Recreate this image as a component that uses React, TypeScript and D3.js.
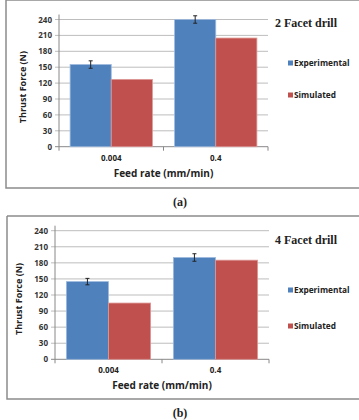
import React from "react";
import * as d3 from "d3";

// feed rates on x axis
const feedRates = ["0.004", "0.4"];
const seriesNames = ["Experimental", "Simulated"];
const yTicks = [0, 30, 60, 90, 120, 150, 180, 210, 240];

// 2 facet drill
const exp2 = [155, 240];
const sim2 = [127, 205];
const err2 = [7, 7];

// 4 facet drill
const exp4 = [145, 190];
const sim4 = [105, 185];
const err4 = [6, 7];

const colors = ["#4f81bd", "#c0504d"];
const edges = ["#9db9dd", "#dd9896"];

const Panel = ({ top, left, plotLeft, plotTop, plotBottom, plotRight, exp, sim, err, title, titleY, label, frameBottom, legendY }) => {
  const x0 = d3.scaleBand().domain(feedRates).range([plotLeft, plotRight]).paddingInner(0).paddingOuter(0);
  const x1 = d3.scaleBand().domain(seriesNames).range([0, x0.bandwidth()]).paddingOuter(0.27);
  const y = d3.scaleLinear().domain([0, 240]).range([plotBottom, plotTop]);
  const values = [exp, sim];
  const bold = { fontFamily: "Open Sans, Noto Sans, sans-serif", fontWeight: 700 };

  return (
    <g transform={`translate(0,${top})`}>
      {/* frame */}
      <path d={`M${left},0 H360 M${left},0 V${frameBottom} H360`} fill="none" stroke="#8c8c8c" strokeWidth={1.5} />
      {/* gridlines */}
      {yTicks.map((t) => (
        <line key={t} x1={plotLeft - 4} x2={plotRight} y1={y(t)} y2={y(t)} stroke={t === 0 ? "#888" : "#bdbdbd"} strokeWidth={1} />
      ))}
      <line x1={plotLeft} x2={plotLeft} y1={y(240) - 5} y2={y(0)} stroke="#888" />
      {[plotLeft, plotLeft + x0.bandwidth(), plotRight].map((v, i) => (
        <line key={i} x1={v} x2={v} y1={y(0)} y2={y(0) + 4} stroke="#888" />
      ))}
      {yTicks.map((t) => (
        <text key={t} x={plotLeft - 7} y={y(t) + 3} textAnchor="end" fontSize={8} fill="#333" style={bold}>
          {t}
        </text>
      ))}
      {/* bars */}
      {feedRates.map((f, i) =>
        seriesNames.map((s, j) => (
          <rect
            key={f + s}
            x={x0(f) + x1(s)}
            y={y(values[j][i])}
            width={x1.bandwidth()}
            height={y(0) - y(values[j][i])}
            fill={colors[j]}
            stroke={edges[j]}
            strokeWidth={0.8}
          />
        ))
      )}
      {/* error bars */}
      {feedRates.map((f, i) => {
        const cx = x0(f) + x1("Experimental") + x1.bandwidth() / 2;
        const hi = y(exp[i] + err[i]);
        const lo = y(exp[i] - err[i]);
        return (
          <g key={f} stroke="#222" strokeWidth={1}>
            <line x1={cx} x2={cx} y1={hi} y2={lo} />
            <line x1={cx - 2} x2={cx + 2} y1={hi} y2={hi} />
            <line x1={cx - 2} x2={cx + 2} y1={lo} y2={lo} />
          </g>
        );
      })}
      {feedRates.map((f) => (
        <text key={f} x={x0(f) + x0.bandwidth() / 2} y={y(0) + 14} textAnchor="middle" fontSize={8} fill="#222" style={bold}>
          {f}
        </text>
      ))}
      <text x={(plotLeft + plotRight) / 2} y={y(0) + 30} textAnchor="middle" fontSize={10} fill="#222" style={bold}>
        Feed rate (mm/min)
      </text>
      <text
        transform={`translate(${plotLeft - 33},${(y(0) + y(240)) / 2 + 4}) rotate(-90)`}
        textAnchor="middle"
        fontSize={9}
        fill="#222"
        style={bold}
      >
        Thrust Force (N)
      </text>
      <text x={275} y={titleY} fontSize={12} fontWeight={700} fontFamily="Liberation Serif, Times New Roman, serif" fill="#222">
        {title}
      </text>
      {seriesNames.map((s, j) => (
        <g key={s}>
          <rect x={288} y={legendY[j] - 5.5} width={5} height={5} fill={colors[j]} />
          <text x={294} y={legendY[j]} fontSize={8.3} fill="#222" style={bold}>
            {s}
          </text>
        </g>
      ))}
      <text x={180} y={frameBottom + 18} textAnchor="middle" fontSize={12} fontWeight={700} fontFamily="Liberation Serif, Times New Roman, serif" fill="#222">
        {label}
      </text>
    </g>
  );
};

export default function App() {
  return (
    <svg width={359} height={420} style={{ position: "absolute", left: 0, top: 0, background: "#fff" }}>
      <Panel
        top={0}
        left={6}
        plotLeft={59}
        plotRight={268}
        plotTop={19.5}
        plotBottom={146.7}
        exp={exp2}
        sim={sim2}
        err={err2}
        title="2 Facet drill"
        titleY={27}
        label="(a)"
        frameBottom={188}
        legendY={[66, 98]}
      />
      <Panel
        top={216}
        left={7}
        plotLeft={55}
        plotRight={269}
        plotTop={14.7}
        plotBottom={143.3}
        exp={exp4}
        sim={sim4}
        err={err4}
        title="4 Facet drill"
        titleY={28}
        label="(b)"
        frameBottom={183}
        legendY={[77, 113]}
      />
    </svg>
  );
}
